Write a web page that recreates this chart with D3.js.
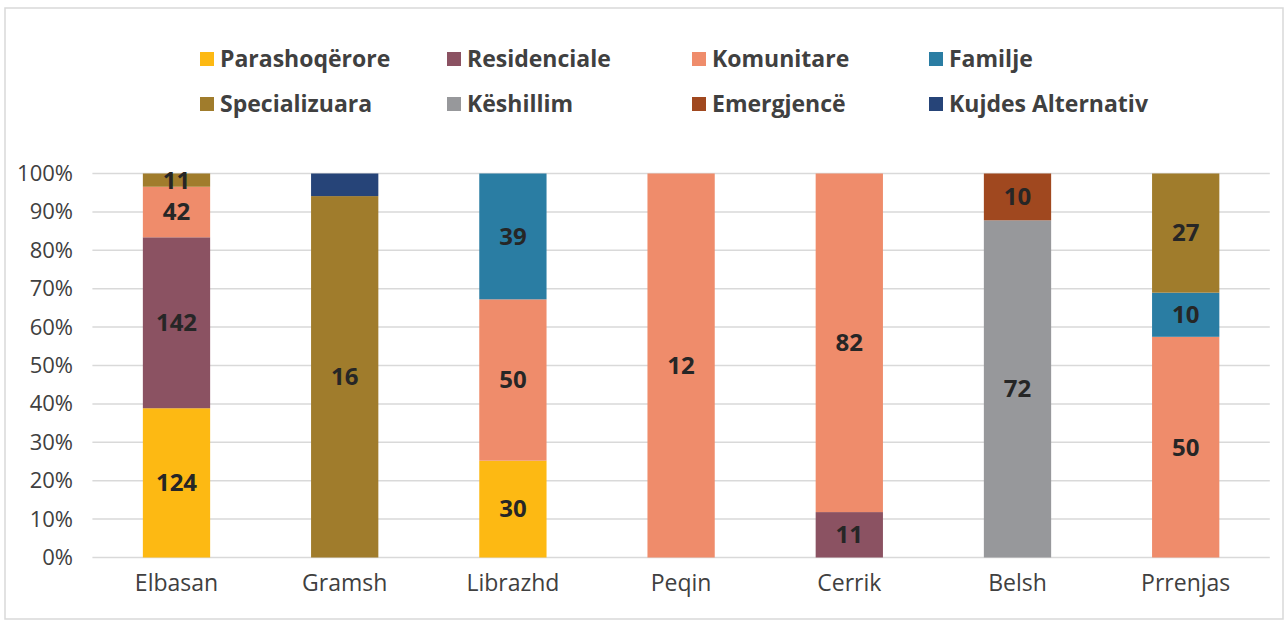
<!DOCTYPE html>
<html lang="sq">
<head>
<meta charset="UTF-8">
<title>Shërbimet sipas bashkive</title>
<script src="https://cdn.jsdelivr.net/npm/d3@7"></script>
<style>
  body { margin: 0; background: #fff; }
  text { font-family: "Open Sans", "Noto Sans", sans-serif; }
</style>
</head>
<body>
<svg></svg>
<script>
const w = 1287;
const h = 624;

const categories = ['Elbasan', 'Gramsh', 'Librazhd', 'Peqin', 'Cerrik', 'Belsh', 'Prrenjas'];
const seriesNames = ['Parashoqërore', 'Residenciale', 'Komunitare', 'Familje',
                     'Specializuara', 'Këshillim', 'Emergjencë', 'Kujdes Alternativ'];
const colors = ['#fdb913', '#8b5262', '#ef8c6b', '#2a7da3', '#a07c2c', '#97989b', '#a0481f', '#264478'];

// values per series, one per category
const parashoqerore = [124, 0, 30, 0, 0, 0, 0];
const residenciale  = [142, 0, 0, 0, 11, 0, 0];
const komunitare    = [42, 0, 50, 12, 82, 0, 50];
const familje       = [0, 0, 39, 0, 0, 0, 10];
const specializuara = [11, 16, 0, 0, 0, 0, 27];
const keshillim     = [0, 0, 0, 0, 0, 72, 0];
const emergjence    = [0, 0, 0, 0, 0, 10, 0];
const kujdesAlt     = [0, 1, 0, 0, 0, 0, 0];
const yTicks = [0, 0.1, 0.2, 0.3, 0.4, 0.5, 0.6, 0.7, 0.8, 0.9, 1];

const seriesValues = [parashoqerore, residenciale, komunitare, familje,
                      specializuara, keshillim, emergjence, kujdesAlt];

const table = categories.map((c, i) => {
    const row = { cat: c };
    seriesNames.forEach((s, j) => row[s] = seriesValues[j][i]);
    return row;
});

const stack = d3.stack().keys(seriesNames).offset(d3.stackOffsetExpand);
const layers = stack(table);

const svg = d3.select('svg').attr('width', w).attr('height', h);

// outer frame
svg.append('rect')
    .attr('x', 5).attr('y', 8)
    .attr('width', w - 9).attr('height', h - 13)
    .attr('fill', 'none')
    .attr('stroke', '#d9d9d9')
    .attr('stroke-width', 1.5);

const x = d3.scaleBand().domain(categories).range([92.4, 1269.8]).paddingInner(0.6).paddingOuter(0.3);
const y = d3.scaleLinear().domain([0, 1]).range([557.5, 173.5]);

// gridlines
svg.append('g')
    .selectAll('line')
    .data(yTicks)
    .enter()
    .append('line')
    .attr('x1', 92.4).attr('x2', 1269.8)
    .attr('y1', d => y(d)).attr('y2', d => y(d))
    .attr('stroke', '#d9d9d9')
    .attr('stroke-width', 1.5);

// y axis labels
const yAxis = svg.append('g')
    .attr('transform', 'translate(92, 0)')
    .call(d3.axisLeft(y).tickValues(yTicks).tickFormat(d3.format('.0%')).tickSize(0).tickPadding(19));
yAxis.select('.domain').remove();
yAxis.selectAll('text')
    .attr('font-size', 22)
    .attr('fill', '#404040')
    .attr('font-family', '"Open Sans", sans-serif');

// x axis labels
const xAxis = svg.append('g')
    .attr('transform', 'translate(0, 557.5)')
    .call(d3.axisBottom(x).tickSize(0).tickPadding(17));
xAxis.select('.domain').remove();
xAxis.selectAll('text')
    .attr('font-size', 23)
    .attr('fill', '#404040')
    .attr('font-family', '"Open Sans", sans-serif');

// bars
const layer = svg.append('g')
    .selectAll('g')
    .data(layers)
    .enter()
    .append('g')
    .attr('fill', (d, i) => colors[i]);

layer.selectAll('rect')
    .data(d => d.map(p => ({ p, key: d.key })))
    .enter()
    .append('rect')
    .attr('x', d => x(d.p.data.cat))
    .attr('y', d => y(d.p[1]))
    .attr('width', x.bandwidth())
    .attr('height', d => y(d.p[0]) - y(d.p[1]));

// segment labels
layer.selectAll('text')
    .data(d => d.map(p => ({ p, key: d.key })).filter(d => d.p.data[d.key] >= 5))
    .enter()
    .append('text')
    .attr('x', d => x(d.p.data.cat) + x.bandwidth() / 2)
    .attr('y', d => (y(d.p[0]) + y(d.p[1])) / 2)
    .attr('dy', '0.35em')
    .attr('text-anchor', 'middle')
    .attr('font-size', 24)
    .attr('font-weight', 'bold')
    .attr('fill', '#262626')
    .text(d => d.p.data[d.key]);

// legend
const legendX = [200, 447, 692, 929];
const legendY = [59, 104];
const legend = svg.append('g')
    .selectAll('g')
    .data(seriesNames)
    .enter()
    .append('g')
    .attr('transform', (d, i) => `translate(${legendX[i % 4]}, ${legendY[Math.floor(i / 4)]})`);

legend.append('rect')
    .attr('x', 0).attr('y', -7)
    .attr('width', 14).attr('height', 14)
    .attr('fill', (d, i) => colors[i]);

legend.append('text')
    .attr('x', 20)
    .attr('dy', '0.35em')
    .attr('font-size', 23)
    .attr('font-weight', 'bold')
    .attr('fill', '#404040')
    .text(d => d);
</script>
</body>
</html>
